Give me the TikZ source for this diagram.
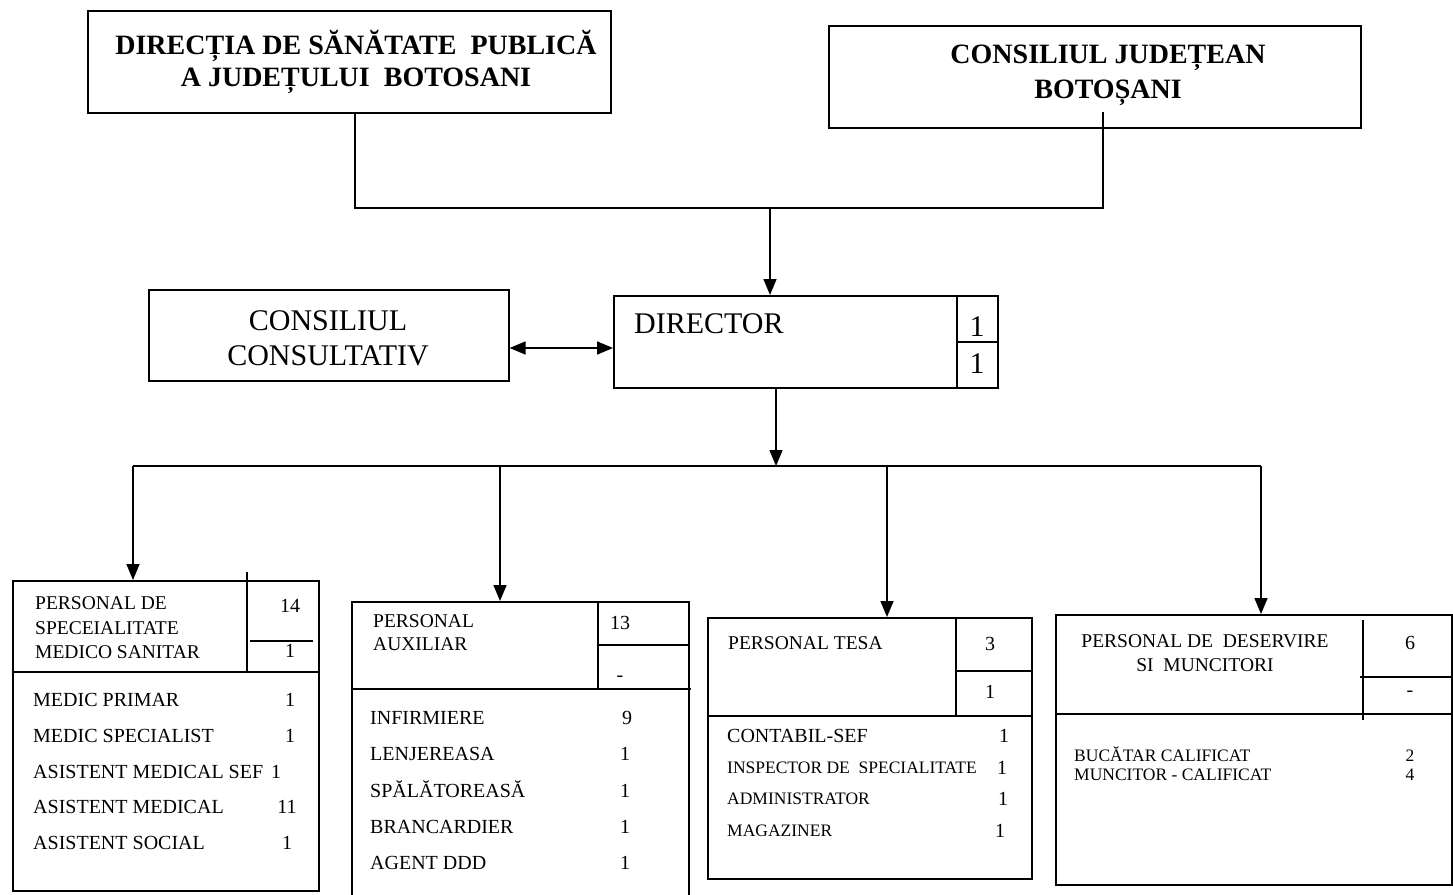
\documentclass[tikz,border=0pt]{standalone}
\usepackage{fontspec}
\setmainfont{Liberation Serif}
\usetikzlibrary{arrows.meta}
\begin{document}
\begin{tikzpicture}[x=1pt,y=-1pt,
  ln/.style={line width=1.6pt},
  arr/.style={ln,-{Triangle[length=16pt,width=13pt]}},
  darr/.style={ln,{Triangle[length=16pt,width=13pt]}-{Triangle[length=16pt,width=13pt]}},
  boxn/.style={draw,line width=1.6pt,anchor=north west,inner sep=0pt},
  big/.style={font=\fontsize{28}{32}\selectfont\bfseries,align=center},
  mid/.style={font=\fontsize{30}{35}\selectfont},
  hd/.style={font=\fontsize{19.5}{24.5}\selectfont,anchor=west,align=left,inner sep=0pt},
  it/.style={font=\fontsize{20}{24}\selectfont,anchor=west,inner sep=0pt,text height=13pt,text depth=1pt},
  its/.style={font=\fontsize{17.5}{21}\selectfont,anchor=west,inner sep=0pt,text height=11.5pt,text depth=1pt},
  num/.style={font=\fontsize{20}{24}\selectfont,inner sep=0pt,text height=13pt,text depth=1pt},
  nums/.style={font=\fontsize{17.5}{21}\selectfont,inner sep=0pt,text height=11.5pt,text depth=1pt},
]
\useasboundingbox (0,0) rectangle (1453,894);

% ---- top boxes
\node[boxn,minimum width=523pt,minimum height=102pt] (dsp) at (87,10) {};
\node[big] (dspt) at (356,62) {DIRECȚIA DE SĂNĂTATE~ PUBLICĂ\\A JUDEȚULUI~ BOTOSANI};
\node[boxn,minimum width=532pt,minimum height=102pt] (cj) at (828,25) {};
\node[big,font=\fontsize{28}{35}\selectfont\bfseries] (cjt) at (1108,75) {CONSILIUL JUDEȚEAN\\BOTOȘANI};

% ---- middle
\node[boxn,minimum width=360pt,minimum height=91pt] (cc) at (148,289) {};
\node[mid,align=center] (cct) at (328,338) {CONSILIUL\\CONSULTATIV};
\node[boxn,minimum width=384pt,minimum height=92pt] (dir) at (613,295) {};
\node[mid,anchor=west,inner sep=0pt] (dirt) at (634,324) {DIRECTOR};
\draw[ln] (957,295) -- (957,387);
\draw[ln] (957,342) -- (997,342);
\node[mid,inner sep=0pt] (dn1) at (977,327) {1};
\node[mid,inner sep=0pt] (dn2) at (977,364) {1};

% ---- connectors top
\coordinate (j1) at (355,208);
\coordinate (j2) at (1103,208);
\coordinate (j3) at (770,208);
\coordinate (cjin) at (1103,112);
\draw[ln] (dsp.south -| j1) -- (j1) -- (j2) -- (cjin);
\draw[arr] (j3) -- (dir.north -| j3);
\coordinate (mid) at (0,348);
\draw[darr] (cc.east |- mid) -- (dir.west |- mid);

% ---- distribution
\coordinate (d0) at (776,466);
\coordinate (h1) at (133,466);
\coordinate (h2) at (500,466);
\coordinate (h3) at (887,466);
\coordinate (h4) at (1261,466);
\draw[arr] (dir.south -| d0) -- (d0);
\draw[ln] (h1) -- (h4);

% ---- box 1
\node[boxn,minimum width=306pt,minimum height=310pt] (b1) at (12,580) {};
\draw[ln] (12,672) -- (318,672);
\draw[ln] (247,572) -- (247,672);
\draw[ln] (250,641) -- (313,641);
\node[num] (b1n1) at (290,606) {14};
\node[num] (b1n2) at (290,651) {1};
\node[hd] (b1h) at (35,628) {PERSONAL DE\\SPECEIALITATE\\MEDICO SANITAR};
\node[it] (b1i1) at (33,700) {MEDIC PRIMAR};
\node[it] (b1i2) at (33,736) {MEDIC SPECIALIST};
\node[it] (b1i3) at (33,772) {ASISTENT MEDICAL SEF};
\node[it] (b1i4) at (33,807) {ASISTENT MEDICAL};
\node[it] (b1i5) at (33,843) {ASISTENT SOCIAL};
\node[num] (b1m1) at (290,700) {1};
\node[num] (b1m2) at (290,736) {1};
\node[num] (b1m3) at (276,772) {1};
\node[num] (b1m4) at (287,807) {11};
\node[num] (b1m5) at (287,843) {1};

% ---- box 2
\node[boxn,minimum width=337pt,minimum height=310pt] (b2) at (351,601) {};
\draw[ln] (351,689) -- (691,689);
\draw[ln] (598,601) -- (598,689);
\draw[ln] (598,645) -- (688,645);
\node[num] (b2n1) at (620,623) {13};
\node[num] (b2n2) at (620,675) {-};
\node[hd,font=\fontsize{19.5}{23}\selectfont] (b2h) at (373,633) {PERSONAL\\AUXILIAR};
\node[it] (b2i1) at (370,718) {INFIRMIERE};
\node[it] (b2i2) at (370,754) {LENJEREASA};
\node[it] (b2i3) at (370,791) {SPĂLĂTOREASĂ};
\node[it] (b2i4) at (370,827) {BRANCARDIER};
\node[it] (b2i5) at (370,863) {AGENT DDD};
\node[num] (b2m1) at (627,718) {9};
\node[num] (b2m2) at (625,754) {1};
\node[num] (b2m3) at (625,791) {1};
\node[num] (b2m4) at (625,827) {1};
\node[num] (b2m5) at (625,863) {1};

% ---- box 3
\node[boxn,minimum width=324pt,minimum height=261pt] (b3) at (707,617) {};
\draw[ln] (707,716) -- (1031,716);
\draw[ln] (956,617) -- (956,716);
\draw[ln] (956,671) -- (1031,671);
\node[num] (b3n1) at (990,644) {3};
\node[num] (b3n2) at (990,692) {1};
\node[hd] (b3h) at (728,643) {PERSONAL TESA};
\node[it] (b3i1) at (727,736) {CONTABIL-SEF};
\node[its] (b3i2) at (727,768) {INSPECTOR DE~ SPECIALITATE};
\node[its] (b3i3) at (727,799) {ADMINISTRATOR};
\node[its] (b3i4) at (727,831) {MAGAZINER};
\node[num] (b3m1) at (1004,736) {1};
\node[num] (b3m2) at (1002,768) {1};
\node[num] (b3m3) at (1003,799) {1};
\node[num] (b3m4) at (1000,831) {1};

% ---- box 4
\node[boxn,minimum width=396pt,minimum height=270pt] (b4) at (1055,614) {};
\draw[ln] (1055,714) -- (1452,714);
\draw[ln] (1363,620) -- (1363,720);
\draw[ln] (1360,677) -- (1452,677);
\node[num] (b4n1) at (1410,643) {6};
\node[num] (b4n2) at (1410,690) {-};
\node[font=\fontsize{19.5}{24}\selectfont,align=center,inner sep=0pt] (b4h) at (1205,653) {PERSONAL DE~ DESERVIRE\\SI~ MUNCITORI};
\node[its] (b4i1) at (1074,756) {BUCĂTAR CALIFICAT};
\node[its] (b4i2) at (1074,775) {MUNCITOR - CALIFICAT};
\node[nums] (b4m1) at (1410,756) {2};
\node[nums] (b4m2) at (1410,775) {4};

% ---- drops
\draw[arr] (h1) -- (b1.north -| h1);
\draw[arr] (h2) -- (b2.north -| h2);
\draw[arr] (h3) -- (b3.north -| h3);
\draw[arr] (h4) -- (b4.north -| h4);
\end{tikzpicture}
\end{document}
